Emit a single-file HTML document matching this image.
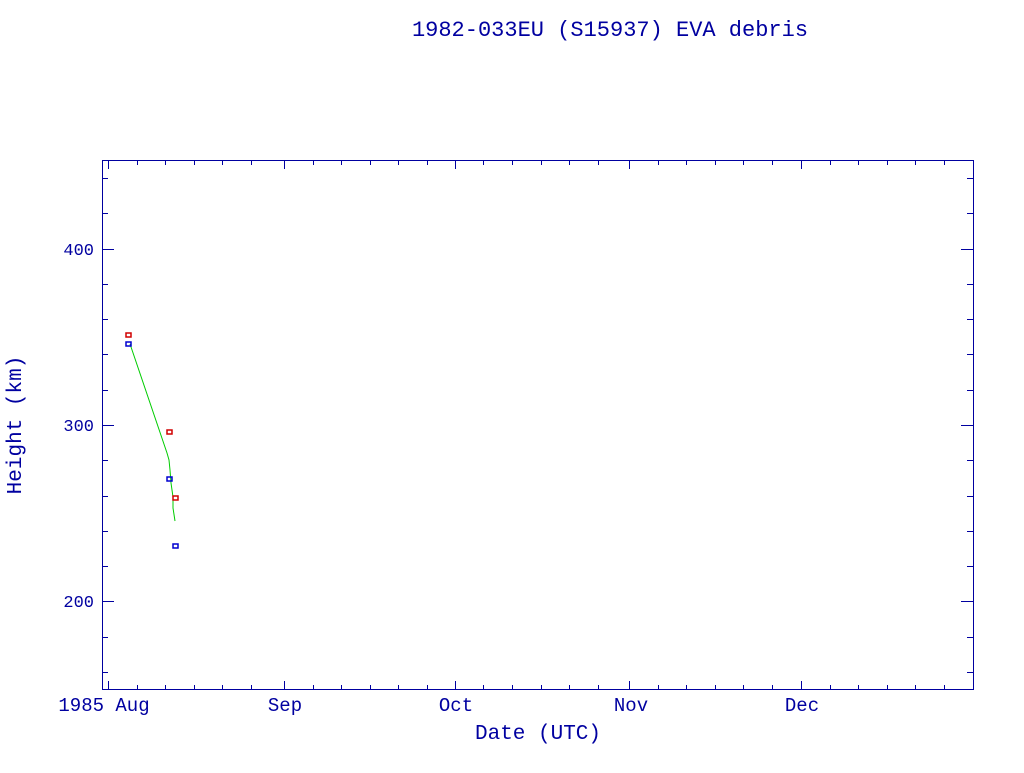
<!DOCTYPE html><html><head><style>body{margin:0;background:#fff}</style></head><body>
<svg width="1024" height="768" xmlns="http://www.w3.org/2000/svg" font-family="Liberation Mono, DejaVu Sans Mono, monospace" fill="#0000a0">
<rect x="0" y="0" width="1024" height="768" fill="#fff"/>
<text x="610" y="36" font-size="22" text-anchor="middle">1982-033EU (S15937) EVA debris</text>
<rect x="102.5" y="160.5" width="871" height="529" fill="none" stroke="#0000a0" stroke-width="1"/>
<g stroke="#0000a0" stroke-width="1">
<path d="M102 178.5h6M102 213.5h6M102 249.5h12M102 284.5h6M102 319.5h6M102 354.5h6M102 390.5h6M102 425.5h12M102 460.5h6M102 496.5h6M102 531.5h6M102 566.5h6M102 601.5h12M102 637.5h6M102 672.5h6"/>
<path d="M973 178.5h-6M973 213.5h-6M973 249.5h-12M973 284.5h-6M973 319.5h-6M973 354.5h-6M973 390.5h-6M973 425.5h-12M973 460.5h-6M973 496.5h-6M973 531.5h-6M973 566.5h-6M973 601.5h-12M973 637.5h-6M973 672.5h-6"/>
<path d="M108.5 690v-9M284.5 690v-9M455.5 690v-9M629.5 690v-9M801.5 690v-9"/>
<path d="M137.5 690v-5M165.5 690v-5M194.5 690v-5M222.5 690v-5M251.5 690v-5M313.5 690v-5M341.5 690v-5M370.5 690v-5M398.5 690v-5M427.5 690v-5M483.5 690v-5M512.5 690v-5M541.5 690v-5M569.5 690v-5M598.5 690v-5M658.5 690v-5M686.5 690v-5M715.5 690v-5M743.5 690v-5M772.5 690v-5M830.5 690v-5M858.5 690v-5M887.5 690v-5M915.5 690v-5M944.5 690v-5"/>
<path d="M108.5 160v9M284.5 160v9M455.5 160v9M629.5 160v9M801.5 160v9"/>
<path d="M137.5 160v5M165.5 160v5M194.5 160v5M222.5 160v5M251.5 160v5M313.5 160v5M341.5 160v5M370.5 160v5M398.5 160v5M427.5 160v5M483.5 160v5M512.5 160v5M541.5 160v5M569.5 160v5M598.5 160v5M658.5 160v5M686.5 160v5M715.5 160v5M743.5 160v5M772.5 160v5M830.5 160v5M858.5 160v5M887.5 160v5M915.5 160v5M944.5 160v5"/>
</g>
<g font-size="17" text-anchor="end">
<text x="94" y="255">400</text><text x="94" y="431">300</text><text x="94" y="607">200</text>
</g>
<g font-size="19" text-anchor="middle">
<text x="104" y="711">1985 Aug</text><text x="285" y="711">Sep</text><text x="456" y="711">Oct</text><text x="631" y="711">Nov</text><text x="802" y="711">Dec</text>
<text x="538" y="739" font-size="21">Date (UTC)</text>
</g>
<text transform="translate(21,425) rotate(-90)" font-size="21" text-anchor="middle">Height (km)</text>
<polyline points="130,344 167,453 169,460 170,470 171,483 173,497 173,508 175,521" fill="none" stroke="#00cc00" stroke-width="1"/>
<g fill="none" stroke-width="1.5">
<rect x="126" y="333" width="5" height="4" stroke="#d00000"/>
<rect x="126" y="342" width="5" height="4" stroke="#0000d0"/>
<rect x="167" y="430" width="5" height="4" stroke="#d00000"/>
<rect x="167" y="477" width="5" height="4" stroke="#0000d0"/>
<rect x="173" y="496" width="5" height="4" stroke="#d00000"/>
<rect x="173" y="544" width="5" height="4" stroke="#0000d0"/>
</g>
</svg>
</body></html>
